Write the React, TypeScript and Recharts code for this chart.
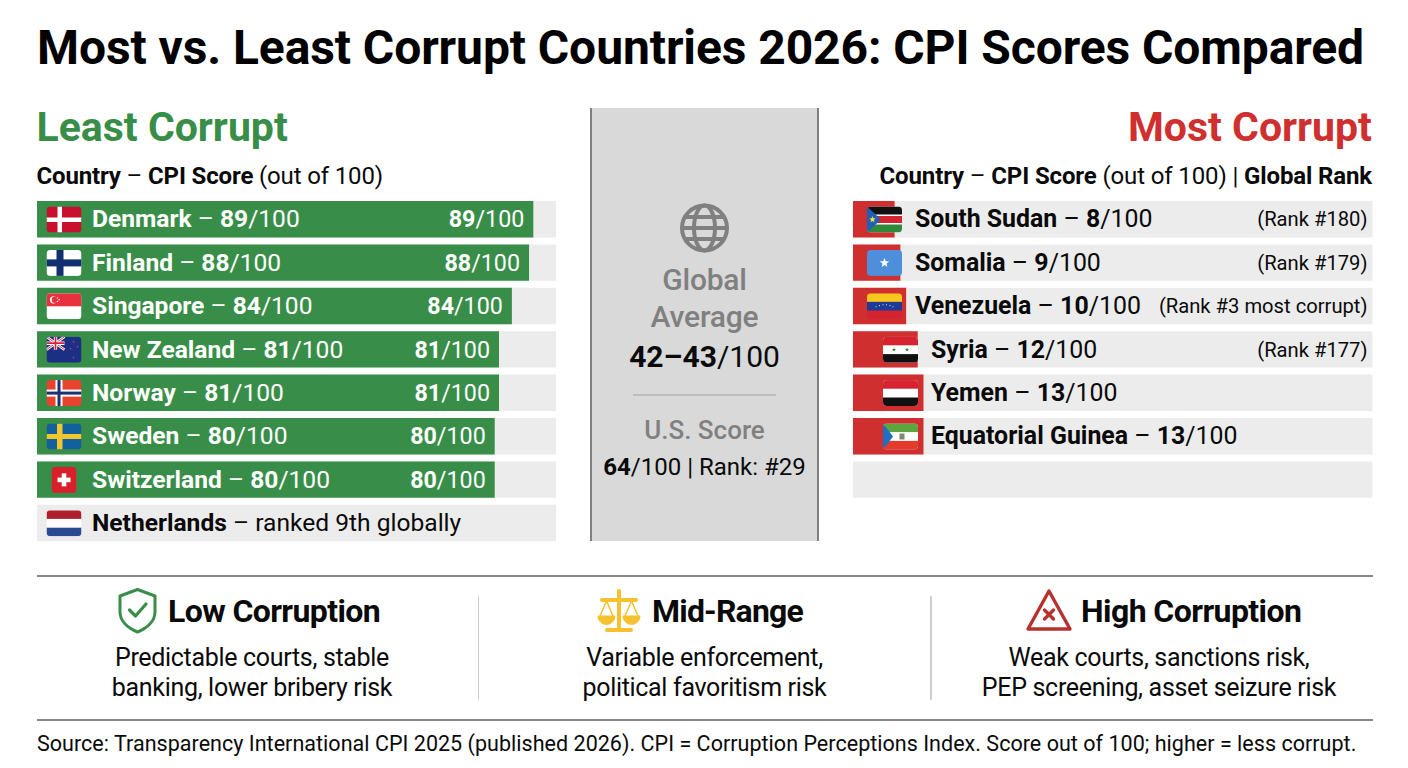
import React from 'react';
import { BarChart, Bar, XAxis, YAxis, LabelList } from 'recharts';

const leastCountries = ['Denmark', 'Finland', 'Singapore', 'New Zealand', 'Norway', 'Sweden', 'Switzerland', 'Netherlands'];
const leastScores = [89, 88, 84, 81, 81, 80, 80, null];
const leastNotes = ['', '', '', '', '', '', '', 'ranked 9th globally'];

const mostCountries = ['South Sudan', 'Somalia', 'Venezuela', 'Syria', 'Yemen', 'Equatorial Guinea', ''];
const mostScores = [8, 9, 10, 12, 13, 13, null];
const mostRanks = ['(Rank #180)', '(Rank #179)', '(Rank #3 most corrupt)', '(Rank #177)', '', '', ''];

// the reference's bars are not on a plain 0-100 scale, these domains line them up with it
const leastDomain = [-26.7, 94.4];
const mostDomain = [0.8, 90.7];

const takeaways = [
  { title: 'Low Corruption', lines: ['Predictable courts, stable', 'banking, lower bribery risk'] },
  { title: 'Mid-Range', lines: ['Variable enforcement,', 'political favoritism risk'] },
  { title: 'High Corruption', lines: ['Weak courts, sanctions risk,', 'PEP screening, asset seizure risk'] },
];

const GREEN = '#388e48';
const RED = '#d02f2f';
const TRACK = '#ececec';
const FONT = 'Roboto, sans-serif';
const LEAST_LEFT = 36.5;
const MOST_LEFT = 853;

const leastData = leastCountries.map((country, i) => ({ country, score: leastScores[i], note: leastNotes[i] }));
const mostData = mostCountries.map((country, i) => ({ country, score: mostScores[i], rank: mostRanks[i] }));

const Star = ({ cx, cy, r, fill }: any) => {
  const pts = [];
  for (let i = 0; i < 10; i++) {
    const a = (Math.PI / 5) * i - Math.PI / 2;
    const rr = i % 2 ? r * 0.42 : r;
    pts.push(`${cx + rr * Math.cos(a)},${cy + rr * Math.sin(a)}`);
  }
  return <polygon points={pts.join(' ')} fill={fill} />;
};

const flagArt: Record<string, React.ReactNode> = {
  Denmark: (
    <>
      <rect width={35} height={26} fill="#c8102e" />
      <rect x={11} width={4.5} height={26} fill="#fff" />
      <rect y={11} width={35} height={4.5} fill="#fff" />
    </>
  ),
  Finland: (
    <>
      <rect width={35} height={26} fill="#fff" />
      <rect x={10} width={7} height={26} fill="#12306f" />
      <rect y={9.5} width={35} height={7} fill="#12306f" />
    </>
  ),
  Singapore: (
    <>
      <rect width={35} height={26} fill="#fff" />
      <rect width={35} height={13} fill="#e8303f" />
      <circle cx={7} cy={6.5} r={3.6} fill="#fff" />
      <circle cx={8.4} cy={6.5} r={3.2} fill="#e8303f" />
      <circle cx={11} cy={4.6} r={0.7} fill="#fff" />
      <circle cx={12.6} cy={6.4} r={0.7} fill="#fff" />
      <circle cx={11} cy={8.2} r={0.7} fill="#fff" />
    </>
  ),
  'New Zealand': (
    <>
      <rect width={35} height={26} fill="#1b2f85" />
      <path d="M0 0L18 13M18 0L0 13" stroke="#fff" strokeWidth={2.6} />
      <path d="M0 0L18 13M18 0L0 13" stroke="#d4213d" strokeWidth={0.9} />
      <path d="M9 0V13M0 6.5H18" stroke="#fff" strokeWidth={3.4} />
      <path d="M9 0V13M0 6.5H18" stroke="#d4213d" strokeWidth={1.7} />
      <Star cx={27} cy={5} r={1.2} fill="#e0405a" />
      <Star cx={31} cy={10} r={1.2} fill="#e0405a" />
      <Star cx={24} cy={12} r={1.2} fill="#e0405a" />
      <Star cx={27} cy={21} r={1.2} fill="#e0405a" />
    </>
  ),
  Norway: (
    <>
      <rect width={35} height={26} fill="#e8432f" />
      <rect x={9} width={7} height={26} fill="#fff" />
      <rect y={9.5} width={35} height={7} fill="#fff" />
      <rect x={11} width={3} height={26} fill="#1d2f70" />
      <rect y={11.5} width={35} height={3} fill="#1d2f70" />
    </>
  ),
  Sweden: (
    <>
      <rect width={35} height={26} fill="#12609c" />
      <rect x={10.5} width={5.5} height={26} fill="#f1c52c" />
      <rect y={10.5} width={35} height={5} fill="#f1c52c" />
    </>
  ),
  Switzerland: (
    <>
      <rect x={5} width={25} height={26} fill="#d8202c" />
      <rect x={15.2} y={6.5} width={4.6} height={13} fill="#fff" />
      <rect x={11} y={10.7} width={13} height={4.6} fill="#fff" />
    </>
  ),
  Netherlands: (
    <>
      <rect width={35} height={26} fill="#fff" />
      <rect width={35} height={8.6} fill="#ae2030" />
      <rect y={17.4} width={35} height={8.6} fill="#2b4a8f" />
    </>
  ),
  'South Sudan': (
    <>
      <rect width={35} height={26} fill="#fff" />
      <rect width={35} height={8} fill="#111" />
      <rect y={9.5} width={35} height={7} fill="#d5232f" />
      <rect y={18} width={35} height={8} fill="#2f8a3c" />
      <polygon points="0,0 14,13 0,26" fill="#1f5fb5" />
      <Star cx={5.5} cy={13} r={3.4} fill="#f5de3a" />
    </>
  ),
  Somalia: (
    <>
      <rect width={35} height={26} fill="#4d8fda" />
      <Star cx={17.5} cy={13} r={5} fill="#fff" />
    </>
  ),
  Venezuela: (
    <>
      <rect width={35} height={8.6} fill="#f7c71e" />
      <rect y={8.6} width={35} height={8.8} fill="#1c3a96" />
      <rect y={17.4} width={35} height={8.6} fill="#d5232f" />
      {[9, 12.5, 16, 19.5, 23, 26].map((x, i) => (
        <circle key={x} cx={x} cy={13.5 - (i === 0 || i === 5 ? 0 : i === 1 || i === 4 ? 1.2 : 2)} r={0.55} fill="#fff" />
      ))}
    </>
  ),
  Syria: (
    <>
      <rect width={35} height={26} fill="#fff" />
      <rect width={35} height={8.6} fill="#d5232f" />
      <rect y={17.4} width={35} height={8.6} fill="#111" />
      <Star cx={11} cy={13} r={2.2} fill="#2f8a3c" />
      <Star cx={24} cy={13} r={2.2} fill="#2f8a3c" />
    </>
  ),
  Yemen: (
    <>
      <rect width={35} height={26} fill="#fff" />
      <rect width={35} height={8.6} fill="#d5232f" />
      <rect y={17.4} width={35} height={8.6} fill="#111" />
    </>
  ),
  'Equatorial Guinea': (
    <>
      <rect width={35} height={26} fill="#fff" />
      <rect width={35} height={8.6} fill="#5da53e" />
      <rect y={17.4} width={35} height={8.6} fill="#e33b2c" />
      <polygon points="0,0 10,13 0,26" fill="#1f6fc0" />
      <rect x={16.5} y={10} width={5} height={6} fill="#7a8a70" />
    </>
  ),
};

const Flag = ({ name, x, y }: any) => (
  <svg x={x} y={y} width={35} height={26} viewBox="0 0 35 26">
    <defs>
      <clipPath id={`flag-${name.replace(/\s/g, '')}`}>
        <rect x={name === 'Switzerland' ? 5 : 0} width={name === 'Switzerland' ? 25 : 35} height={26} rx={4} />
      </clipPath>
    </defs>
    <g clipPath={`url(#flag-${name.replace(/\s/g, '')})`}>{flagArt[name]}</g>
  </svg>
);

const renderLeastLabel = (props: any) => {
  const { x, y, width, height, index } = props;
  const row = leastData[index];
  const base = y + height / 2 + 8.3;
  const fill = row.score == null ? '#0a0a0a' : '#fff';
  return (
    <g fontFamily={FONT} fill={fill}>
      <Flag name={row.country} x={46 - LEAST_LEFT} y={y + 5.5} />
      <text x={91.5 - LEAST_LEFT} y={base} fontSize={24.6}>
        <tspan fontWeight={700}>{row.country}</tspan>
        {row.score == null ? (
          <tspan> – {row.note}</tspan>
        ) : (
          <>
            <tspan> – </tspan>
            <tspan fontWeight={700}>{row.score}</tspan>
            <tspan>/100</tspan>
          </>
        )}
      </text>
      {row.score != null && (
        <text x={x + width - 9} y={base} fontSize={23.3} textAnchor="end">
          <tspan fontWeight={700}>{row.score}</tspan>
          <tspan>/100</tspan>
        </text>
      )}
    </g>
  );
};

const renderMostLabel = (props: any) => {
  const { y, height, index } = props;
  const row = mostData[index];
  if (!row.country) return null;
  const base = y + height / 2 + 8.3;
  const indent = index > 2 ? 16 : 0;
  return (
    <g fontFamily={FONT} fill="#0a0a0a">
      <Flag name={row.country} x={867 - MOST_LEFT + indent} y={y + 5.5} />
      <text x={915 - MOST_LEFT + indent} y={base} fontSize={24.9}>
        <tspan fontWeight={700}>{row.country}</tspan>
        <tspan> – </tspan>
        <tspan fontWeight={700}>{row.score}</tspan>
        <tspan>/100</tspan>
      </text>
      {row.rank && (
        <text x={1367.5 - MOST_LEFT} y={base - 1} fontSize={20.2} textAnchor="end">
          {row.rank}
        </text>
      )}
    </g>
  );
};

const abs = (left: number, top: number, extra: React.CSSProperties = {}): React.CSSProperties => ({
  position: 'absolute',
  left,
  top,
  whiteSpace: 'nowrap',
  ...extra,
});

const Line = ({ left, top, width, height, color }: any) => (
  <div style={{ position: 'absolute', left, top, width, height, background: color }} />
);

const centered = (cx: number, top: number, size: number, extra: React.CSSProperties = {}) =>
  abs(cx - 200, top, { width: 400, textAlign: 'center', fontSize: size, lineHeight: `${size}px`, ...extra });

const Icons = () => (
  <svg style={{ position: 'absolute', left: 0, top: 0 }} width={1408} height={768}>
    {/* globe */}
    <g fill="none" stroke="#808080" strokeWidth={4}>
      <circle cx={704.5} cy={228} r={22.5} />
      <ellipse cx={704.5} cy={228} rx={10.5} ry={22.5} />
      <path d="M682 228H727M685 217H724M685 239H724" />
    </g>
    {/* shield */}
    <g fill="none" stroke={GREEN} strokeWidth={3} strokeLinejoin="round" strokeLinecap="round">
      <path d="M137.5 589.5L155 596V612C155 621 147 628 137.5 632C128 628 120 621 120 612V596Z" />
      <path d="M129.5 610L135.5 616L146 604" strokeWidth={3.2} />
    </g>
    {/* scales */}
    <g fill="#f5c12e" stroke="#f5c12e">
      <path d="M619 591V627M602 600H636M607 630H631" fill="none" strokeWidth={4} strokeLinecap="round" />
      <path d="M598 616A8.5 8.5 0 0 0 615 616Z" strokeWidth={1} />
      <path d="M623 616A8.5 8.5 0 0 0 640 616Z" strokeWidth={1} />
      <path d="M606.5 601L600 616M606.5 601L613 616M631.5 601L625 616M631.5 601L638 616" fill="none" strokeWidth={1.5} />
    </g>
    {/* warning triangle */}
    <g fill="none" stroke="#b7322f" strokeLinejoin="round" strokeLinecap="round">
      <path d="M1049 591L1070 629H1028Z" strokeWidth={3.4} />
      <path d="M1044.5 610L1053.5 619M1053.5 610L1044.5 619" strokeWidth={3.4} />
    </g>
  </svg>
);

export default function App() {
  return (
    <div style={{ position: 'absolute', left: 0, top: 0, width: 1408, height: 768, background: '#fff', fontFamily: FONT, color: '#0a0a0a', overflow: 'hidden' }}>
      <div style={abs(37, 20, { fontSize: 48, lineHeight: '56px', fontWeight: 700, color: '#000', letterSpacing: -0.09 })}>
        Most vs. Least Corrupt Countries 2026: CPI Scores Compared
      </div>

      <div style={abs(36.5, 103, { fontSize: 41, lineHeight: '48px', fontWeight: 700, color: GREEN })}>Least Corrupt</div>
      <div style={abs(36.5, 162, { fontSize: 24, lineHeight: '28px', letterSpacing: -0.15 })}>
        <b>Country</b> – <b>CPI Score</b> (out of 100)
      </div>

      <div style={abs(972, 103, { width: 400, textAlign: 'right', fontSize: 41, lineHeight: '48px', fontWeight: 700, color: RED })}>Most Corrupt</div>
      <div style={abs(772, 162, { width: 600, textAlign: 'right', fontSize: 24, lineHeight: '28px', letterSpacing: -0.13 })}>
        <b>Country</b> – <b>CPI Score</b> (out of 100) | <b>Global Rank</b>
      </div>

      <div style={{ position: 'absolute', left: LEAST_LEFT, top: 196.5 }}>
        <BarChart width={519.5} height={347.2} data={leastData} layout="vertical" margin={{ top: 0, right: 0, bottom: 0, left: 0 }}>
          <XAxis type="number" domain={leastDomain} hide />
          <YAxis type="category" dataKey="country" hide />
          <Bar
            dataKey={(d: any) => [leastDomain[0], d.score ?? leastDomain[0] + 0.001]}
            fill={GREEN}
            barSize={36.4}
            background={{ fill: TRACK }}
            isAnimationActive={false}
          >
            <LabelList content={renderLeastLabel} />
          </Bar>
        </BarChart>
      </div>

      <div style={{ position: 'absolute', left: MOST_LEFT, top: 196.5 }}>
        <BarChart width={519.5} height={303.8} data={mostData} layout="vertical" margin={{ top: 0, right: 0, bottom: 0, left: 0 }}>
          <XAxis type="number" domain={mostDomain} hide />
          <YAxis type="category" dataKey="country" hide />
          <Bar
            dataKey={(d: any) => [mostDomain[0], d.score ?? mostDomain[0] + 0.001]}
            fill={RED}
            barSize={36.4}
            background={{ fill: TRACK }}
            isAnimationActive={false}
          >
            <LabelList content={renderMostLabel} />
          </Bar>
        </BarChart>
      </div>

      <div style={{ position: 'absolute', left: 590, top: 108, width: 229, height: 432.5, background: '#d9d9d9', boxSizing: 'border-box', borderLeft: '2px solid #808080', borderRight: '2px solid #808080' }} />
      <div style={centered(704.5, 265, 30, { fontWeight: 500, color: '#808080', letterSpacing: -0.2 })}>Global</div>
      <div style={centered(704.5, 302, 30, { fontWeight: 500, color: '#808080', letterSpacing: -0.2 })}>Average</div>
      <div style={centered(704.5, 342, 30)}>
        <b>42–43</b>/100
      </div>
      <Line left={633} top={394} width={143} height={1.5} color="#bdbdbd" />
      <div style={centered(704.5, 417, 26, { fontWeight: 500, color: '#808080' })}>U.S. Score</div>
      <div style={centered(704.5, 455, 24)}>
        <b>64</b>/100 | Rank: #29
      </div>

      <Line left={36.5} top={575} width={1336} height={1.5} color="#888" />
      <Line left={477.5} top={596} width={1.5} height={104} color="#cfcfcf" />
      <Line left={930} top={596} width={1.5} height={104} color="#cfcfcf" />
      <Line left={36.5} top={719} width={1336} height={1.5} color="#888" />

      <Icons />
      <div style={abs(168, 592, { fontSize: 32, lineHeight: '38px', fontWeight: 700, letterSpacing: -0.6 })}>{takeaways[0].title}</div>
      <div style={abs(652, 592, { fontSize: 32, lineHeight: '38px', fontWeight: 700, letterSpacing: -0.8 })}>{takeaways[1].title}</div>
      <div style={abs(1081, 592, { fontSize: 32, lineHeight: '38px', fontWeight: 700, letterSpacing: -0.57 })}>{takeaways[2].title}</div>
      {takeaways.map((t, i) =>
        t.lines.map((line, j) => (
          <div key={line} style={centered([252, 704.5, 1159][i], 645 + j * 30, 25, { letterSpacing: -0.32 })}>
            {line}
          </div>
        )),
      )}

      <div style={abs(37, 731, { fontSize: 21.5, lineHeight: '26px', letterSpacing: 0.03 })}>
        Source: Transparency International CPI 2025 (published 2026). CPI = Corruption Perceptions Index. Score out of 100; higher = less corrupt.
      </div>
    </div>
  );
}
